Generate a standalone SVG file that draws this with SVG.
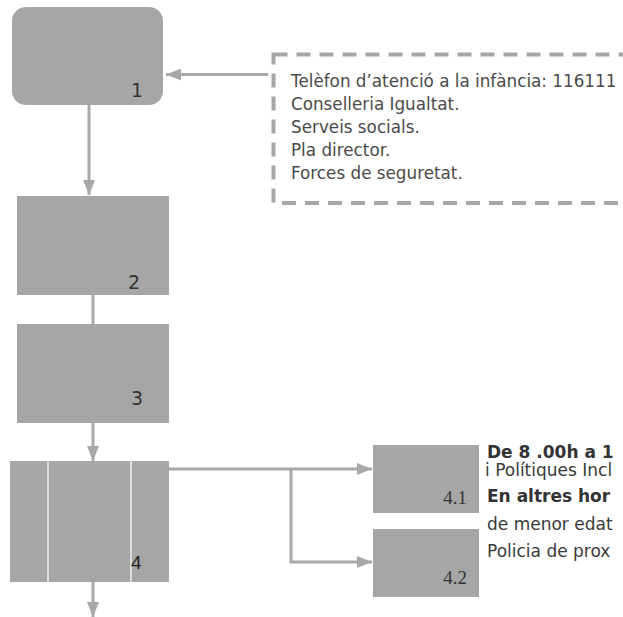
<svg xmlns="http://www.w3.org/2000/svg" width="623" height="617" viewBox="0 0 623 617">
<style>
.box{fill:#a6a6a6;}
.conn{fill:none;stroke:#a8a8a8;stroke-width:3;}
.num{font-family:"DejaVu Sans",sans-serif;font-size:19px;fill:#333;}
.numS{font-family:"Liberation Serif",serif;font-size:19px;fill:#333;}
.txt{font-family:"DejaVu Sans",sans-serif;font-size:16.8px;fill:#4a4a4a;}
.rt{font-family:"DejaVu Sans",sans-serif;font-size:17px;fill:#3a3a3a;}
.rtb{font-family:"DejaVu Sans",sans-serif;font-size:17px;font-weight:bold;fill:#333;}
</style>
<defs>
<marker id="ah" markerWidth="15" markerHeight="12" refX="15" refY="6" orient="auto" markerUnits="userSpaceOnUse">
<path d="M0,0 L15,6 L0,12 z" fill="#a8a8a8"/>
</marker>
</defs>
<rect width="623" height="617" fill="#fff"/>
<g id="connectors">
<path class="conn" d="M268 74.5 H166" marker-end="url(#ah)"/>
<path class="conn" d="M89 105 V195" marker-end="url(#ah)"/>
<path class="conn" d="M93 295 V324"/>
<path class="conn" d="M93 423 V461" marker-end="url(#ah)"/>
<path class="conn" d="M93 582 V617" marker-end="url(#ah)"/>
<path class="conn" d="M169 469 H372" marker-end="url(#ah)"/>
<path class="conn" d="M291 469 V562 H372" marker-end="url(#ah)"/>
</g>
<g id="node1">
<rect class="box" x="12" y="7" width="151" height="98" rx="14"/>
<text class="num" x="131" y="97">1</text>
</g>
<g id="note">
<rect x="273.5" y="54.5" width="420" height="148.5" fill="none" stroke="#a6a6a6" stroke-width="4" stroke-dasharray="14 9"/>
<text class="txt" x="291" y="87">Telèfon d’atenció a la infància: 116111</text>
<text class="txt" x="291" y="110">Conselleria Igualtat.</text>
<text class="txt" x="291" y="133">Serveis socials.</text>
<text class="txt" x="291" y="156">Pla director.</text>
<text class="txt" x="291" y="179">Forces de seguretat.</text>
</g>
<g id="node2">
<rect class="box" x="17" y="196" width="152" height="99"/>
<text class="num" x="128" y="289">2</text>
</g>
<g id="node3">
<rect class="box" x="17" y="324" width="152" height="99"/>
<text class="num" x="131" y="405">3</text>
</g>
<g id="node4">
<rect class="box" x="10" y="461" width="159" height="121"/>
<line x1="48" y1="461" x2="48" y2="582" stroke="#eee" stroke-width="1.5"/>
<line x1="131" y1="461" x2="131" y2="582" stroke="#eee" stroke-width="1.5"/>
<text x="131" y="569" font-family="Liberation Sans, sans-serif" font-size="19" fill="#222">4</text>
</g>
<g id="node41">
<rect class="box" x="373" y="445" width="106" height="68"/>
<text class="numS" x="467" y="504" text-anchor="end">4.1</text>
</g>
<g id="node42">
<rect class="box" x="373" y="529" width="106" height="68"/>
<text class="numS" x="467" y="584" text-anchor="end">4.2</text>
</g>
<g id="righttext">
<text class="rtb" x="487" y="458">De 8 .00h a 1</text>
<text class="rt" x="485" y="476">i Polítiques Incl</text>
<text class="rtb" x="487" y="502">En altres hor</text>
<text class="rt" x="487" y="530">de menor edat</text>
<text class="rt" x="487" y="557">Policia de prox</text>
</g>
</svg>
